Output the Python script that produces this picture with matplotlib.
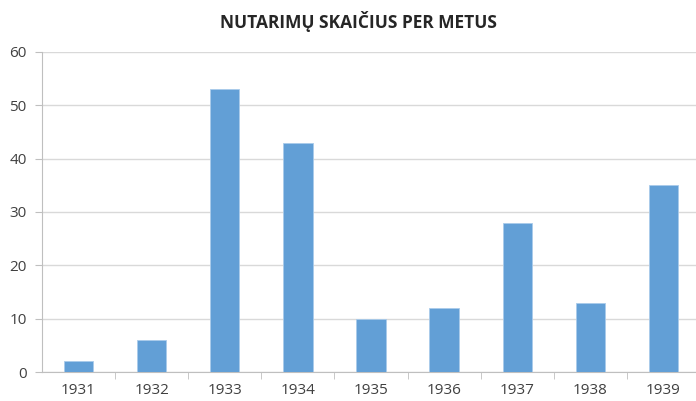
import matplotlib.pyplot as plt

years = ['1931', '1932', '1933', '1934', '1935', '1936', '1937', '1938', '1939']
counts = [2, 6, 53, 43, 10, 12, 28, 13, 35]
yticks = [0, 10, 20, 30, 40, 50, 60]

plt.rcParams['font.family'] = ['Open Sans', 'DejaVu Sans']

fig = plt.figure(figsize=(6.96, 4.01), dpi=100)
ax = fig.add_axes([42/696, 29/401, 658/696, 320/401])

x = list(range(len(years)))
ax.bar(x, counts, width=0.4, color='#629FD6', edgecolor='#A9CBEA', linewidth=0.6, zorder=3)

ax.set_xlim(-0.5, len(years) - 0.5)
ax.set_ylim(0, 60)
ax.set_yticks(yticks)
ax.grid(axis='y', color='#D9D9D9', linewidth=1, zorder=0)

ax.set_xticks(x)
ax.set_xticklabels(years, fontsize=11, color='#404040')
ax.tick_params(axis='x', length=0, pad=8)
ax.set_xticks([i + 0.5 for i in x[:-1]], minor=True)
ax.tick_params(axis='x', which='minor', length=5, color='#BFBFBF')
ax.tick_params(axis='y', length=5, color='#BFBFBF', labelsize=11, labelcolor='#404040', pad=6)

for s in ['top', 'right']:
    ax.spines[s].set_visible(False)
ax.spines['left'].set_color('#BFBFBF')
ax.spines['bottom'].set_color('#BFBFBF')

fig.text(358/696, 1 - 21/401, 'NUTARIMŲ SKAIČIUS PER METUS', ha='center', va='center',
         fontsize=12.5, fontweight='bold', color='#262626')

fig.savefig('out.png', dpi=100)
